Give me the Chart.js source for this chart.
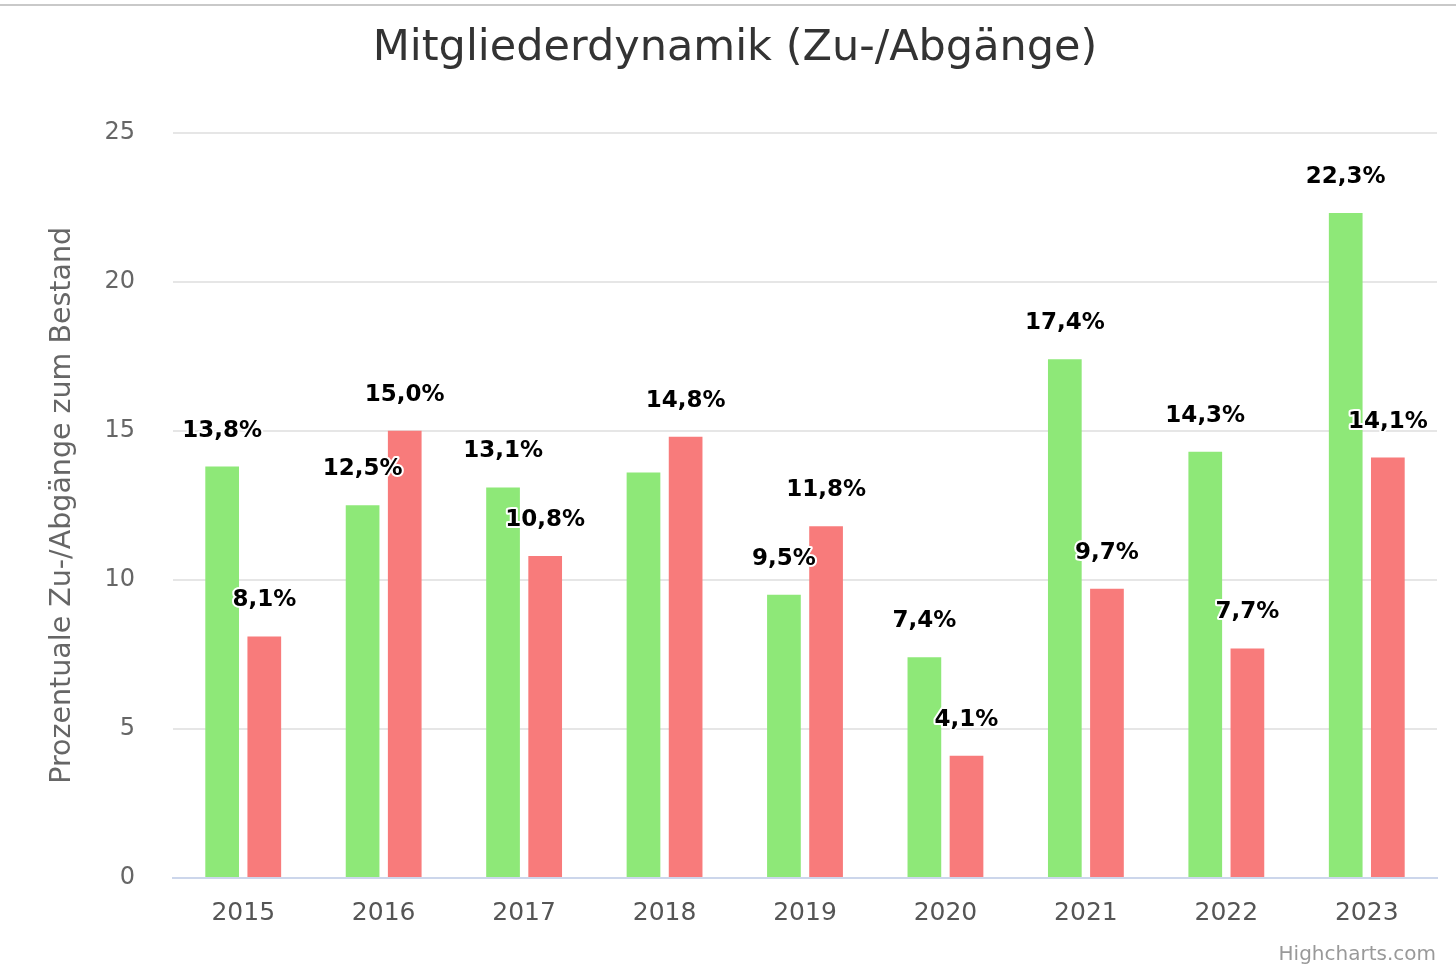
<!DOCTYPE html>
<html>
<head>
<meta charset="utf-8">
<script src="https://cdn.jsdelivr.net/npm/chart.js@4.4.1/dist/chart.umd.min.js"></script>
<style>
  html, body { margin: 0; padding: 0; background: #fff; overflow: hidden; }
  #wrap { position: relative; width: 1456px; height: 968px; }
  #topline { position: absolute; left: 0; top: 4px; width: 1456px; height: 2px; background: #c9c9c9; }
</style>
</head>
<body>
<div id="wrap">
  <canvas id="dynamik" width="1456" height="968"></canvas>
  <div id="topline"></div>
</div>
<script>
// categories along the x-axis
const years = ['2015', '2016', '2017', '2018', '2019', '2020', '2021', '2022', '2023'];
// Zugänge (green) and Abgänge (red), in % of Bestand
const zugaenge = [13.8, 12.5, 13.1, 13.6, 9.5, 7.4, 17.4, 14.3, 22.3];
const abgaenge = [8.1, 15.0, 10.8, 14.8, 11.8, 4.1, 9.7, 7.7, 14.1];
// value labels as shown (2018 Zugänge has none in the picture)
const zugaengeLabels = ['13,8%', '12,5%', '13,1%', null, '9,5%', '7,4%', '17,4%', '14,3%', '22,3%'];
const abgaengeLabels = ['8,1%', '15,0%', '10,8%', '14,8%', '11,8%', '4,1%', '9,7%', '7,7%', '14,1%'];
// y-axis ticks
const yTicks = [0, 5, 10, 15, 20, 25];

const FONT = '"DejaVu Sans", "Open Sans", sans-serif';

// draws the bold value labels with a white halo above each bar
const valueLabels = {
  id: 'valueLabels',
  afterDatasetsDraw(chart) {
    const ctx = chart.ctx;
    ctx.save();
    ctx.font = 'bold 23px ' + FONT;
    ctx.textAlign = 'center';
    ctx.textBaseline = 'middle';
    ctx.lineJoin = 'round';
    chart.data.datasets.forEach((ds, i) => {
      chart.getDatasetMeta(i).data.forEach((bar, j) => {
        const txt = ds.valueLabels[j];
        if (!txt) return;
        const y = bar.y - 36;
        ctx.strokeStyle = '#fff';
        ctx.lineWidth = 4;
        ctx.strokeText(txt, bar.x, y);
        ctx.fillStyle = '#000';
        ctx.fillText(txt, bar.x, y);
      });
    });
    ctx.restore();
  }
};

const credits = {
  id: 'credits',
  afterDraw(chart) {
    const ctx = chart.ctx;
    ctx.save();
    ctx.font = '20px ' + FONT;
    ctx.fillStyle = '#999';
    ctx.textAlign = 'right';
    ctx.textBaseline = 'middle';
    ctx.fillText('Highcharts.com', 1436, 955);
    ctx.restore();
  }
};

const ctx = document.getElementById('dynamik');
const chart = new Chart(ctx, {
  type: 'bar',
  data: {
    labels: years,
    datasets: [
      {
        label: 'Zugänge',
        data: zugaenge,
        valueLabels: zugaengeLabels,
        backgroundColor: '#8ee878',
        borderWidth: 0,
        categoryPercentage: 0.6,
        barPercentage: 0.8
      },
      {
        label: 'Abgänge',
        data: abgaenge,
        valueLabels: abgaengeLabels,
        backgroundColor: '#f87b7b',
        borderWidth: 0,
        categoryPercentage: 0.6,
        barPercentage: 0.8
      }
    ]
  },
  options: {
    responsive: false,
    animation: false,
    layout: { padding: { left: 14, right: 0, top: 0, bottom: 0 } },
    plugins: {
      legend: { display: false },
      tooltip: { enabled: false },
      title: {
        display: true,
        text: 'Mitgliederdynamik (Zu-/Abgänge)',
        color: '#333',
        font: { family: FONT, size: 43, weight: 'normal' },
        padding: { top: 23, bottom: 58 }
      }
    },
    scales: {
      x: {
        grid: { display: false, drawTicks: false },
        border: { color: '#ccd6eb', width: 2 },
        ticks: { color: '#555', font: { family: FONT, size: 25 }, padding: 20 },
        afterFit(scale) { scale.height = 90; }
      },
      y: {
        min: 0,
        max: 25,
        afterBuildTicks(scale) { scale.ticks = yTicks.map(v => ({ value: v })); },
        grid: { color: '#e6e6e6', lineWidth: 2, drawTicks: false },
        border: { display: false },
        ticks: { color: '#666', font: { family: FONT, size: 24 }, padding: 38 },
        title: {
          display: true,
          text: 'Prozentuale Zu-/Abgänge zum Bestand',
          color: '#666',
          font: { family: FONT, size: 28.5 },
          padding: { top: 31, bottom: 0 }
        },
        afterFit(scale) { scale.width = 159; }
      },
      // empty right-hand axis that only reserves the margin
      yRight: {
        position: 'right',
        min: 0,
        max: 25,
        grid: { display: false, drawTicks: false },
        border: { display: false },
        ticks: { display: false },
        afterFit(scale) { scale.width = 19; }
      }
    }
  },
  plugins: [valueLabels, credits]
});
</script>
</body>
</html>
